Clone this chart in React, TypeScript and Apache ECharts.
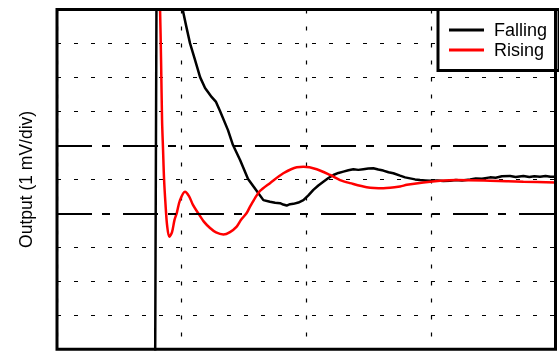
import React, { useEffect, useRef } from "react";
import * as echarts from "echarts";

// Time axis in divisions (4 div across), output in mV (1 mV/div, -5..5)
const fallingTime = [
  0.787, 0.799, 0.95, 1.008, 1.035, 1.067, 1.108, 1.148, 1.188, 1.242, 1.276, 1.308,
  1.372, 1.412, 1.469, 1.533, 1.603, 1.656, 1.709, 1.75, 1.79, 1.815, 1.843, 1.87,
  1.897, 1.937, 1.977, 2.017, 2.057, 2.097, 2.137, 2.178, 2.218, 2.258, 2.298, 2.338,
  2.378, 2.418, 2.458, 2.498, 2.538, 2.578, 2.618, 2.66, 2.699, 2.753, 2.793, 2.833,
  2.873, 2.913, 2.954, 2.994, 3.05, 3.1, 3.154, 3.2, 3.25, 3.315, 3.36, 3.41,
  3.475, 3.52, 3.57, 3.636, 3.68, 3.742, 3.79, 3.83, 3.876, 3.92, 3.96, 3.997,
];
const fallingValue = [
  -6, 6, 6, 5.01, 4.54, 4.01, 3.51, 3.01, 2.69, 2.42, 2.28, 2.01,
  1.45, 1.01, 0.57, 0.01, -0.34, -0.61, -0.66, -0.69, -0.7, -0.74, -0.77, -0.73,
  -0.72, -0.68, -0.61, -0.47, -0.31, -0.18, -0.07, 0.04, 0.13, 0.19, 0.23, 0.27,
  0.3, 0.28, 0.3, 0.32, 0.33, 0.29, 0.26, 0.21, 0.18, 0.11, 0.06, 0.03,
  0.0, -0.02, -0.03, -0.04, -0.03, -0.05, -0.04, -0.02, -0.03, 0.0, 0.03, 0.02,
  0.06, 0.05, 0.09, 0.1, 0.07, 0.1, 0.07, 0.09, 0.08, 0.1, 0.08, 0.08,
];

const risingTime = [
  0.819, 0.827, 0.835, 0.843, 0.851, 0.859, 0.871, 0.883, 0.901, 0.923, 0.943, 0.961,
  0.987, 1.027, 1.059, 1.091, 1.132, 1.18, 1.228, 1.276, 1.335, 1.388, 1.442, 1.477,
  1.522, 1.549, 1.589, 1.629, 1.709, 1.816, 1.924, 1.977, 2.084, 2.191, 2.271, 2.352,
  2.485, 2.619, 2.753, 2.807, 2.94, 3.074, 3.208, 3.475, 3.742, 3.997,
];
const risingValue = [
  6, 5.0, 3.51, 1.75, 0.87, 0.01, -0.75, -1.34, -1.69, -1.55, -1.19, -0.99,
  -0.61, -0.36, -0.49, -0.75, -0.99, -1.25, -1.43, -1.56, -1.62, -1.55, -1.39, -1.19,
  -0.99, -0.8, -0.55, -0.34, -0.11, 0.18, 0.36, 0.37, 0.3, 0.13, -0.02, -0.11,
  -0.23, -0.26, -0.21, -0.16, -0.09, -0.04, -0.02, -0.04, -0.07, -0.09,
];

const limitLines = [-1, 1];
const seriesNames = ["Falling", "Rising"];

const zip = (t: number[], v: number[]) => t.map((x, i) => [x, v[i]]);

export default function App() {
  const ref = useRef<HTMLDivElement>(null);
  useEffect(() => {
    if (!ref.current) return;
    const chart = echarts.init(ref.current, undefined, { renderer: "svg" });
    const font = "Liberation Sans, Arial, Helvetica, sans-serif";
    const dotted = { type: [4, 13] as number[], color: "#000", width: 1.2 };
    chart.setOption({
      animation: false,
      textStyle: { fontFamily: font },
      grid: {
        left: 57,
        right: 3.5,
        top: 9.5,
        bottom: 4.7,
        show: true,
        borderColor: "#000",
        borderWidth: 3,
        backgroundColor: "transparent",
        z: 10,
      },
      legend: {
        data: seriesNames,
        orient: "vertical",
        left: 438,
        top: 9.5,
        padding: [10.5, 12, 10.5, 11],
        itemGap: 0,
        itemWidth: 35,
        itemHeight: 3,
        icon: "rect",
        borderColor: "#000",
        borderWidth: 3,
        backgroundColor: "#fff",
        textStyle: { fontSize: 18, color: "#000", lineHeight: 20, fontFamily: font, padding: [0, 0, 0, 5] },
      },
      xAxis: {
        type: "value",
        min: 0,
        max: 4,
        interval: 1,
        axisLine: { show: false },
        axisTick: { show: false },
        axisLabel: { show: false },
        splitLine: { show: true, lineStyle: dotted },
      },
      yAxis: {
        type: "value",
        min: -5,
        max: 5,
        interval: 1,
        name: "Output (1 mV/div)",
        nameLocation: "middle",
        nameGap: 22,
        nameTextStyle: { fontSize: 17.5, color: "#000", fontFamily: font },
        axisLine: { show: false },
        axisTick: { show: false },
        axisLabel: { show: false },
        splitLine: {
          show: true,
          lineStyle: {
            ...dotted,
            color: ["#000", "#000", "#000", "#000", "transparent", "#000", "transparent", "#000", "#000", "#000", "#000"],
          },
        },
      },
      series: [
        {
          name: seriesNames[0],
          type: "line",
          data: zip(fallingTime, fallingValue),
          showSymbol: false,
          symbol: "none",
          clip: true,
          lineStyle: { color: "#000", width: 2.5 },
          itemStyle: { color: "#000" },
          markLine: {
            silent: true,
            symbol: "none",
            label: { show: false },
            lineStyle: { color: "#000", width: 2, type: [35, 10, 8, 13] },
            data: limitLines.map((y) => ({ yAxis: y })),
          },
        },
        {
          name: seriesNames[1],
          type: "line",
          data: zip(risingTime, risingValue),
          showSymbol: false,
          symbol: "none",
          smooth: 0.3,
          clip: true,
          lineStyle: { color: "#ff0000", width: 2.5 },
          itemStyle: { color: "#ff0000" },
        },
      ],
    });
    return () => chart.dispose();
  }, []);
  return <div ref={ref} style={{ position: "fixed", left: 0, top: 0, width: 559, height: 354 }} />;
}
